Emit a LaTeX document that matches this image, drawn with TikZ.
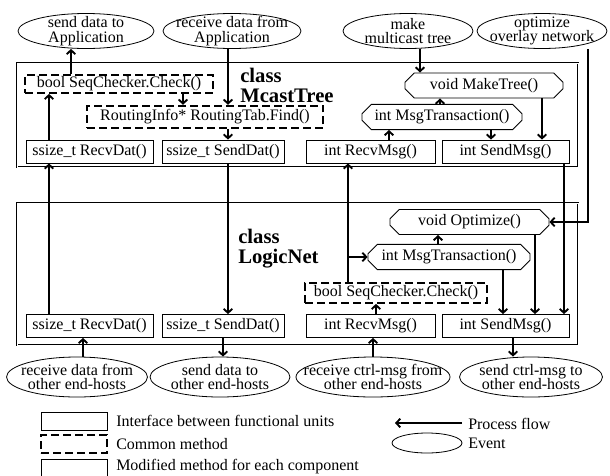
\documentclass[tikz,border=0pt]{standalone}
\usepackage{fontspec}
\setmainfont{Liberation Serif}
\usepackage{tikz}
\usetikzlibrary{
	arrows.meta,
	positioning,
	calc,
	shapes.geometric,
	shapes.misc
}

\tikzset{
	flow/.style={->,line width=1.4pt},
	iface/.style={draw,line width=0.6pt,minimum height=17.25pt},
	common/.style={draw,line width=1.3pt,dash pattern=on 6pt off 3pt,minimum height=14pt},
	modified/.style={draw,line width=0.6pt,chamfered rectangle,chamfered rectangle xsep=3pt,chamfered rectangle ysep=4pt,minimum height=16.5pt},
	event/.style={draw,line width=0.6pt,ellipse,align=center,inner xsep=-16pt,inner ysep=-6pt},
	classbox/.style={draw,line width=0.5pt,double,double distance=0.6pt,minimum width=420.75pt},
	classname/.style={anchor=north west,align=left,font=\fontsize{15.5}{15}\selectfont\bfseries}
}

\begin{document}
\begin{tikzpicture}[x=0.75pt,y=-0.75pt,>={Straight Barb[length=3pt,width=6.5pt]},
	every node/.append style={font=\fontsize{12}{11}\selectfont,inner sep=0pt}]
	\useasboundingbox (0,0) rectangle (610,475);
	
	% class frames
	\node[classbox,minimum height=78pt] (mcast) at (297.5,115){};
	\node[classbox,minimum height=106.5pt] (logic) at (297.5,274){};
	
	% application side events
	\node[event,minimum width=102pt,minimum height=26.25pt] (appsend) at (86,31){send data to\\Application};
	\node[event,minimum width=103.5pt,minimum height=26.25pt] (apprecv) at (232,31){receive data from\\Application};
	\node[event,minimum width=97.5pt,minimum height=26.25pt] (mktree) at (408,31){make\\multicast tree};
	\node[event,minimum width=97.5pt,minimum height=26.25pt] (optnet) at (542,31){optimize\\overlay network};
	
	% McastTree
	\node[classname] (mname) at (240,68){class\\McastTree};
	\node[common,minimum width=141pt,minimum height=13.5pt] (mchk) at (119,84){bool SeqChecker.Check()};
	\node[common,minimum width=177pt,minimum height=17pt] (mfind) at (205,117){RoutingInfo* RoutingTab.Find()};
	\node[modified,minimum width=118.5pt,minimum height=17.25pt] (mmake) at (484,85.5){void MakeTree()};
	\node[modified,minimum width=120pt] (mtrans) at (442,117){int MsgTransaction()};
	\node[iface,minimum width=95.25pt] (mrdat) at (89.5,151.5){ssize\_t RecvDat()};
	\node[iface,minimum width=91.5pt] (msdat) at (223,151.5){ssize\_t SendDat()};
	\node[iface,minimum width=96.75pt] (mrmsg) at (370.5,151.5){int RecvMsg()};
	\node[iface,minimum width=95.25pt] (msmsg) at (505.5,151.5){int SendMsg()};
	
	% LogicNet
	\node[classname] (lname) at (238,229){class\\LogicNet};
	\node[modified,minimum width=119.25pt] (lopt) at (469.5,222){void Optimize()};
	\node[modified,minimum width=121.5pt] (ltrans) at (449,257){int MsgTransaction()};
	\node[common,minimum width=136.5pt,minimum height=15pt] (lchk) at (396,293){bool SeqChecker.Check()};
	\node[iface,minimum width=95.25pt] (lrdat) at (89.5,326){ssize\_t RecvDat()};
	\node[iface,minimum width=91.5pt] (lsdat) at (223,326){ssize\_t SendDat()};
	\node[iface,minimum width=96.75pt] (lrmsg) at (370.5,326){int RecvMsg()};
	\node[iface,minimum width=95.25pt] (lsmsg) at (505.5,326){int SendMsg()};
	
	% end-host events
	\node[event,minimum width=105.75pt,minimum height=30pt] (hrdat) at (77,377){receive data from\\other end-hosts};
	\node[event,minimum width=105pt,minimum height=30pt] (hsdat) at (220,377){send data to\\other end-hosts};
	\node[event,minimum width=115.5pt,minimum height=30pt] (hrmsg) at (373,377){receive ctrl-msg from\\other end-hosts};
	\node[event,minimum width=107.25pt,minimum height=30pt] (hsmsg) at (531,377){send ctrl-msg to\\other end-hosts};
	
	% flows in McastTree
	\draw[flow] (mrdat.north -| 49,0) -- (mchk.south -| 49,0);
	\draw[flow] (mchk.north -| 71,0) -- (appsend.south -| 71,0);
	\draw[flow] (mchk.south -| 183,0) -- (mfind.north -| 183,0);
	\draw[flow] (apprecv.south -| 228,0) -- (mfind.north -| 228,0);
	\draw[flow] (mfind.south -| 228,0) -- (msdat.north -| 228,0);
	\draw[flow] (msdat.south -| 228,0) -- (lsdat.north -| 228,0);
	\draw[flow] (mktree.south -| 420,0) -- (mmake.north -| 420,0);
	\draw[flow] (mtrans.north -| 440,0) -- (mmake.south -| 440,0);
	\draw[flow] (mrmsg.north -| 389,0) -- (mtrans.south -| 389,0);
	\draw[flow] (mtrans.south -| 491,0) -- (msmsg.north -| 491,0);
	\draw[flow] (mmake.south -| 542,0) -- (msmsg.north -| 542,0);
	\draw[flow] (msmsg.south -| 564,0) -- (lsmsg.north -| 564,0);
	\draw[flow] (optnet.south -| 588,0) |- (lopt.east);
	
	% flows in LogicNet
	\draw[flow] (lrdat.north -| 49,0) -- (mrdat.south -| 49,0);
	\draw[flow] (lrmsg.north -| 376,0) -- (lchk.south -| 376,0);
	\draw[flow] (lchk.north -| 348,0) -- (mrmsg.south -| 348,0);
	\draw[flow] (ltrans.west -| 348,0) -- (ltrans.west);
	\draw[flow] (ltrans.north -| 438,0) -- (lopt.south -| 438,0);
	\draw[flow] (ltrans.south -| 503,0) -- (lsmsg.north -| 503,0);
	\draw[flow] (lopt.south -| 535,0) -- (lsmsg.north -| 535,0);
	\draw[flow] (hrdat.north -| 83,0) -- (lrdat.south -| 83,0);
	\draw[flow] (lsdat.south -| 223,0) -- (hsdat.north -| 223,0);
	\draw[flow] (hrmsg.north -| 373,0) -- (lrmsg.south -| 373,0);
	\draw[flow] (lsmsg.south -| 513,0) -- (hsmsg.north -| 513,0);
	
	% legend
	\node[iface,minimum width=49.5pt,minimum height=13.5pt] (kiface) at (74,421){};
	\node[anchor=west] (tiface) at (116,421){Interface between functional units};
	\node[common,minimum width=49.5pt,minimum height=13.5pt] (kcommon) at (74,444){};
	\node[anchor=west] (tcommon) at (116,444){Common method};
	\node[modified,minimum width=49.5pt,minimum height=13.5pt] (kmod) at (74,468){};
	\node[anchor=west] (tmod) at (116,467){Modified method for each component};
	\coordinate (kflowa) at (462,423);
	\coordinate (kflowb) at (395,423);
	\draw[flow] (kflowa) -- (kflowb);
	\node[anchor=west] (tflow) at (468,424){Process flow};
	\node[event,minimum width=52.5pt,minimum height=15pt] (kevent) at (427,443){};
	\node[anchor=west] (tevent) at (468,443){Event};
	
\end{tikzpicture}
\end{document}
